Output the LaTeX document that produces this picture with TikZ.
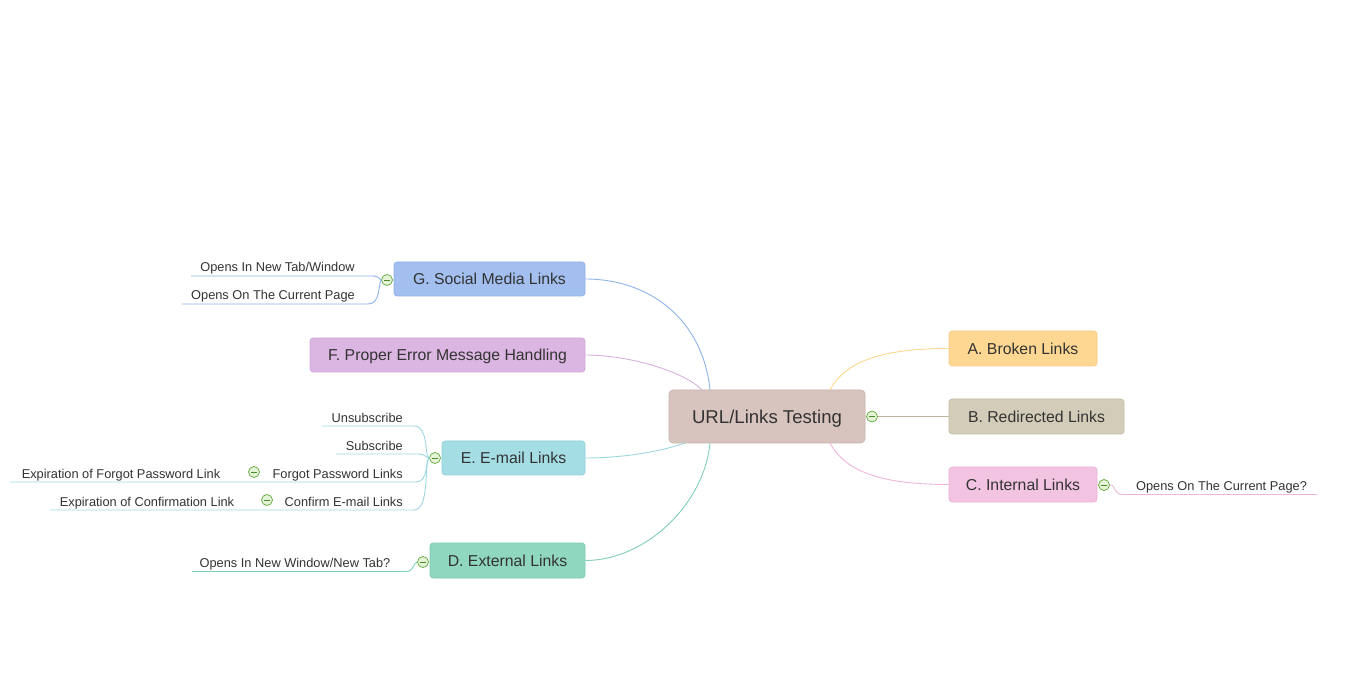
\documentclass[tikz,border=0pt]{standalone}
\usepackage{fontspec}
\setmainfont{Liberation Sans}
\definecolor{txt}{HTML}{333333}
\definecolor{mainF}{HTML}{D8C4BE}\definecolor{mainD}{HTML}{C9B2AB}
\definecolor{aF}{HTML}{FED793}\definecolor{aD}{HTML}{F6CB84}\definecolor{aL}{HTML}{FDD78E}
\definecolor{bF}{HTML}{D3CCB8}\definecolor{bD}{HTML}{C4BBA5}\definecolor{bL}{HTML}{BDB49C}
\definecolor{cF}{HTML}{F3C3E2}\definecolor{cD}{HTML}{EAB3D6}\definecolor{cL}{HTML}{EFB6D9}
\definecolor{gF}{HTML}{A2BFEF}\definecolor{gD}{HTML}{8FAFE6}\definecolor{gL}{HTML}{8DB3EA}
\definecolor{fF}{HTML}{DCB6E3}\definecolor{fD}{HTML}{CEA6D6}\definecolor{fL}{HTML}{D8B0DC}
\definecolor{eF}{HTML}{A5DDE5}\definecolor{eD}{HTML}{8FD0DA}\definecolor{eL}{HTML}{9CD7E1}
\definecolor{dF}{HTML}{8FD7BE}\definecolor{dD}{HTML}{79CBAE}\definecolor{dL}{HTML}{7FD0B2}
\definecolor{colD}{HTML}{5FA83A}\definecolor{colF}{HTML}{E4F2D6}\definecolor{colM}{HTML}{4A8A2A}
\begin{document}
\begin{tikzpicture}[x=1pt,y=-1pt,
  every node/.style={text=txt},
  topic/.style={rectangle, rounded corners=3pt, line width=0.6pt, inner sep=0pt,
    font=\fontsize{15.8}{18}\selectfont, minimum height=35pt, text height=11.3pt, text depth=0pt},
  maintopic/.style={rectangle, rounded corners=4pt, line width=0.6pt, inner sep=0pt,
    font=\fontsize{18.6}{22}\selectfont, minimum height=53pt, minimum width=196pt,
    fill=mainF, draw=mainD, text height=13.3pt, text depth=0pt},
  sub/.style={inner sep=0pt, font=\fontsize{12.8}{15}\selectfont, text height=9.2pt, text depth=0pt},
  link/.style={line width=0.9pt},
  collapse/.style={circle, draw=colD, fill=colF, line width=0.7pt, minimum size=11pt, inner sep=0pt,
    path picture={\draw[colM, line width=0.8pt]
      ([xshift=-3.2pt]path picture bounding box.center) -- ([xshift=3.2pt]path picture bounding box.center);}}
]
\useasboundingbox (0,0) rectangle (1366,692);

% main topic
\node[maintopic] (main) at (767,416.5) {URL/Links Testing};

% branches
\node[topic, fill=aF, draw=aD, minimum width=148pt] (A) at (1023,348.5) {A. Broken Links};
\node[topic, fill=bF, draw=bD, minimum width=175pt] (B) at (1036.5,416.5) {B. Redirected Links};
\node[topic, fill=cF, draw=cD, minimum width=148pt] (C) at (1023,484.5) {C. Internal Links};
\node[topic, fill=gF, draw=gD, minimum width=191pt, minimum height=34pt] (G) at (489.5,279) {G. Social Media Links};
\node[topic, fill=fF, draw=fD, minimum width=275pt, minimum height=34pt] (F) at (447.5,355) {F. Proper Error Message Handling};
\node[topic, fill=eF, draw=eD, minimum width=143pt, minimum height=34pt] (E) at (513.5,458) {E. E-mail Links};
\node[topic, fill=dF, draw=dD, minimum width=155pt] (D) at (507.5,560.5) {D. External Links};

% anchor points on the main topic
\coordinate (mTR) at (830,390);
\coordinate (mBR) at (830,443);
\coordinate (mTL1) at (710,390);
\coordinate (mTL2) at (702,390);
\coordinate (mBL1) at (685,443);
\coordinate (mBL2) at (710,443);

% main connectors
\draw[link, aL] (mTR) .. controls (845,362) and (880,348.5) .. (A.west);
\draw[link, cL] (mBR) .. controls (845,471) and (880,484.5) .. (C.west);
\draw[link, gL] (mTL1) .. controls (703,320) and (650,279) .. (G.east);
\draw[link, fL] (mTL2) .. controls (685,372) and (630,355) .. (F.east);
\draw[link, eL] (mBL1) .. controls (650,455) and (610,458) .. (E.east);
\draw[link, dL] (mBL2) .. controls (704,505) and (645,560.5) .. (D.east);

% collapse markers
\node[collapse] (mc) at (872,416.5) {};
\draw[link, bL] (mc.east) -- (B.west);
\node[collapse] (cc) at (1104,485) {};
\node[collapse] (gc) at (387,280) {};
\node[collapse] (ec) at (435,458) {};
\node[collapse] (dc) at (423,562) {};

% C subtopic
\node[sub] (c1) at (1221.5,485.5) {Opens On The Current Page?};
\coordinate (c1r) at (1317,494.5);
\coordinate (c1l) at (1124,494.5);
\draw[link, cL] (cc.east) .. controls (1117,485) and (1112,494.5) .. (c1l) -- (c1r);

% G subtopics
\node[sub] (g1) at (277.5,267) {Opens In New Tab/Window};
\node[sub] (g2) at (273,295) {Opens On The Current Page};
\coordinate (g1r) at (372,276);
\coordinate (g1l) at (191,276);
\coordinate (g2r) at (368,304);
\coordinate (g2l) at (182,304);
\draw[link, gL] (gc.west) .. controls (378,279) and (380,276) .. (g1r) -- (g1l);
\draw[link, gL] (gc.west) .. controls (378,284) and (381,304) .. (g2r) -- (g2l);

% E subtopics
\node[sub, anchor=east] (e1) at (403,418) {Unsubscribe};
\node[sub, anchor=east] (e2) at (403,446) {Subscribe};
\node[sub, anchor=east] (e3) at (403,474) {Forgot Password Links};
\node[sub, anchor=east] (e4) at (403,502) {Confirm E-mail Links};
\node[sub] (e3a) at (121,474) {Expiration of Forgot Password Link};
\node[sub] (e4a) at (147,502) {Expiration of Confirmation Link};
\node[collapse] (e3c) at (254,472) {};
\node[collapse] (e4c) at (267,500) {};
\coordinate (e1r) at (414,426); \coordinate (e1l) at (322,426);
\coordinate (e2r) at (418,454); \coordinate (e2l) at (336,454);
\coordinate (e3r) at (416,482); \coordinate (e3l) at (10,482);
\coordinate (e4r) at (414,510); \coordinate (e4l) at (50,510);
\draw[link, eL] (ec.west) .. controls (424,456) and (429,426) .. (e1r) -- (e1l);
\draw[link, eL] (ec.west) .. controls (426,458) and (426,454) .. (e2r) -- (e2l);
\draw[link, eL] (ec.west) .. controls (425,460) and (429,482) .. (e3r) -- (e3l);
\draw[link, eL] (ec.west) .. controls (424,462) and (430,510) .. (e4r) -- (e4l);

% D subtopic
\node[sub] (d1) at (295,563) {Opens In New Window/New Tab?};
\coordinate (d1r) at (406,571.5);
\coordinate (d1l) at (192,571.5);
\draw[link, dL] (dc.west) .. controls (413,563) and (414,571.5) .. (d1r) -- (d1l);
\end{tikzpicture}
\end{document}
